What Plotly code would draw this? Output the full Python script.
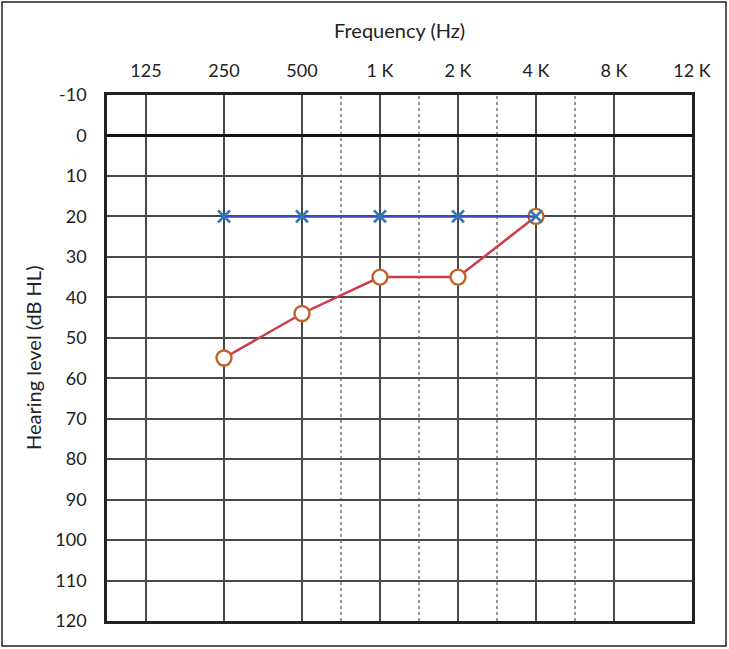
import plotly.graph_objects as go

freq_labels = ["125", "250", "500", "1 K", "2 K", "4 K", "8 K", "12 K"]
half_octaves = [2.5, 3.5, 4.5, 5.5]  # 750, 1.5K, 3K, 6K dashed lines
test_freqs = ["250", "500", "1 K", "2 K", "4 K"]
right_ear = [55, 44, 35, 35, 20]   # O
left_ear = [20, 20, 20, 20, 20]    # X
y_ticks = list(range(-10, 121, 10))
y_ticktext = [str(v) for v in y_ticks]

pos = {lab: i for i, lab in enumerate(freq_labels)}
xs = [pos[f] for f in test_freqs]

FONT = "Lato"
fig = go.Figure()

fig.add_trace(go.Scatter(
    x=xs, y=right_ear, mode="lines+markers",
    line=dict(color="#cf3b4a", width=2.5),
    marker=dict(symbol="circle", size=15, color="white",
                line=dict(color="#c0622a", width=2.4)),
    showlegend=False))
fig.add_trace(go.Scatter(
    x=xs, y=left_ear, mode="lines+markers",
    line=dict(color="#3c48c4", width=2.5),
    marker=dict(symbol="x-thin", size=12,
                line=dict(color="#2f78b8", width=2.8)),
    showlegend=False))

for h in half_octaves:
    fig.add_shape(type="line", xref="x", yref="paper", x0=h, x1=h, y0=0, y1=1,
                  line=dict(color="#777", width=1.5, dash="dot"), layer="below")

# outer frame
fig.add_shape(type="rect", xref="paper", yref="paper",
              x0=(2 - 107) / 585, x1=(726 - 107) / 585,
              y0=(621 - 646) / 526, y1=(621 - 2) / 526,
              line=dict(color="#222", width=1.5))

fig.add_annotation(text="Frequency (Hz)", xref="paper", yref="paper",
                   x=0.5, y=(621 - 30) / 526, showarrow=False,
                   xanchor="center", yanchor="middle",
                   font=dict(family=FONT, size=20, color="#222"))
fig.add_annotation(text="Hearing level (dB HL)", xref="paper", yref="paper",
                   x=(33 - 107) / 585, y=0.5, showarrow=False, textangle=-90,
                   xanchor="center", yanchor="middle",
                   font=dict(family=FONT, size=20, color="#222"))

fig.update_layout(
    width=729, height=649,
    margin=dict(l=107, r=37, t=95, b=28),
    paper_bgcolor="white", plot_bgcolor="white",
    font=dict(family=FONT, size=18, color="#222"),
    xaxis=dict(range=[-0.5, 7], side="top", tickmode="array",
               tickvals=list(range(len(freq_labels))), ticktext=freq_labels,
               showgrid=True, gridcolor="#4a4a4a", gridwidth=1.6,
               zeroline=False, showline=True, mirror=True,
               linecolor="#222", linewidth=2.5,
               ticks="outside", ticklen=8, tickcolor="rgba(0,0,0,0)"),
    yaxis=dict(range=[120, -10], tickmode="array", tickvals=y_ticks,
               ticktext=y_ticktext,
               showgrid=True, gridcolor="#4a4a4a", gridwidth=1.6,
               zeroline=True, zerolinecolor="#111", zerolinewidth=2.5,
               showline=True, mirror=True, linecolor="#222", linewidth=2.5,
               ticks="outside", ticklen=14, tickcolor="rgba(0,0,0,0)"),
)

fig.write_html("out.html")
